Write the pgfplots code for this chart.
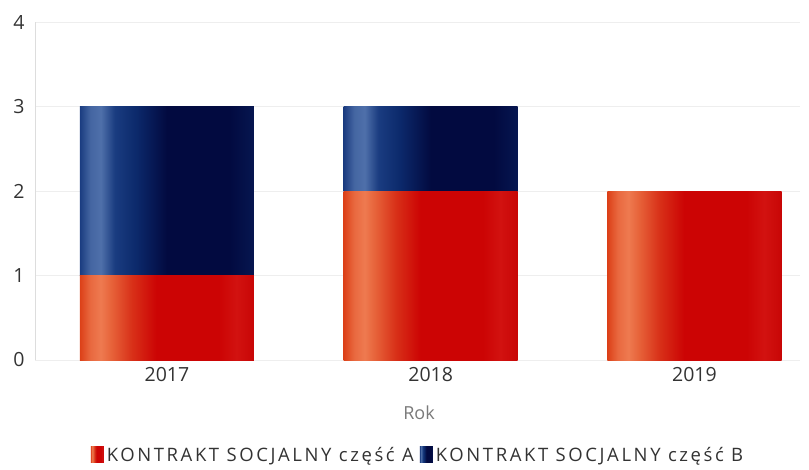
\documentclass[border=0pt]{standalone}
\usepackage{pgfplots}
\pgfplotsset{compat=1.18}
\usepackage{fontspec}
\setmainfont{Open Sans}
\definecolor{tickc}{HTML}{333333}
\definecolor{labc}{HTML}{7A7A7A}
\definecolor{gridc}{HTML}{EEEEEE}
\definecolor{axc}{HTML}{DDDDDD}
\definecolor{rA}{HTML}{DC4018}
\definecolor{rB}{HTML}{EE7A50}
\definecolor{rC}{HTML}{D83018}
\definecolor{rD}{HTML}{CC0404}
\definecolor{rE}{HTML}{D21210}
\definecolor{rF}{HTML}{C80606}
\pgfdeclarehorizontalshading{redbar}{100bp}{%
color(0bp)=(rA);
color(25bp)=(rA);
color(28bp)=(rB!70!rA);
color(31bp)=(rB);
color(34bp)=(rB!60!rA);
color(40bp)=(rC);
color(47bp)=(rD);
color(65bp)=(rD);
color(70bp)=(rE);
color(75bp)=(rF);
color(100bp)=(rF)}
\definecolor{bA}{HTML}{1A3C80}
\definecolor{bB}{HTML}{4F70AA}
\definecolor{bC}{HTML}{0C2A6C}
\definecolor{bD}{HTML}{020A40}
\definecolor{bE}{HTML}{061650}
\pgfdeclarehorizontalshading{bluebar}{100bp}{%
color(0bp)=(bA);
color(25bp)=(bA);
color(28bp)=(bB!80!bA);
color(31bp)=(bB);
color(35bp)=(bA);
color(41bp)=(bC);
color(50bp)=(bD);
color(68bp)=(bD);
color(75bp)=(bE);
color(100bp)=(bE)}
\pgfplotsset{
  basebar/.style={
    at={(0,0)}, anchor=south west,
    scale only axis, width=765pt, height=338pt,
    ybar stacked, bar width=0.66,
    xmin=-0.5, xmax=2.4, ymin=0, ymax=4,
  },
}
\begin{document}
\begin{tikzpicture}[x=1pt,y=1pt]
\path[use as bounding box] (-35,-109) rectangle (774,360);
\begin{axis}[
  basebar,
  xtick={0,1,2}, xticklabels={2017,2018,2019},
  ytick={0,1,2,3,4},
  axis y line*=left,
  axis x line*=bottom,
  y axis line style={axc, line width=0.8pt, -},
  x axis line style={draw=none, -},
  major tick length=0pt,
  ymajorgrids, grid style={gridc, line width=0.8pt},
  tick label style={font=\fontsize{19.5}{23}\selectfont, text=tickc},
  /pgf/number format/assume math mode=true,
  yticklabel style={xshift=-7pt},
  xticklabel style={yshift=-4pt},
  xlabel={Rok},
  xlabel style={font=\fontsize{18}{22}\selectfont, text=labc, at={(axis description cs:0.502,-0.157)}, anchor=center},
  legend style={draw=none, at={(axis description cs:0.5,-0.281)}, anchor=center,
    font=\fontsize{18.5}{22}\selectfont\addfontfeature{LetterSpace=14}, text=tickc, legend columns=2,
    inner sep=0pt,
    nodes={inner sep=1pt},
    /tikz/every odd column/.append style={column sep=2pt},
    /tikz/every even column/.append style={column sep=5pt}},
  legend image code/.code={\path[#1] (0pt,-8pt) rectangle (13pt,8pt);},
]
\addplot[draw=none, shading=redbar] coordinates {(0,1)};
\addplot[draw=none, shading=bluebar] coordinates {(0,2)};
\legend{KONTRAKT SOCJALNY część A, KONTRAKT SOCJALNY część B}
\end{axis}
\begin{axis}[basebar, hide axis]
\addplot[draw=none, shading=redbar] coordinates {(1,2)};
\addplot[draw=none, shading=bluebar] coordinates {(1,1)};
\end{axis}
\begin{axis}[basebar, hide axis]
\addplot[draw=none, shading=redbar] coordinates {(2,2)};
\end{axis}
\end{tikzpicture}
\end{document}
